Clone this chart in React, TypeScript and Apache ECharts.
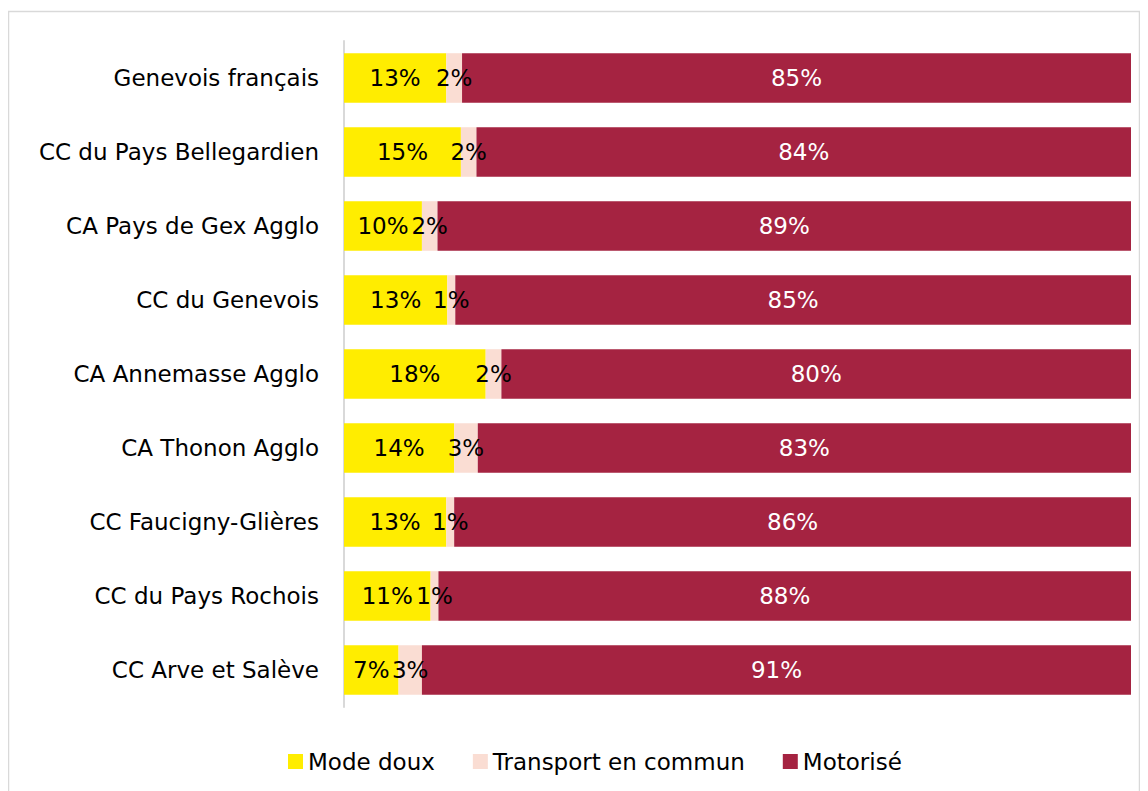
import React, { useEffect, useRef } from "react";
import * as echarts from "echarts";

const categories = [
  "Genevois français",
  "CC du Pays Bellegardien",
  "CA Pays de Gex Agglo",
  "CC du Genevois",
  "CA Annemasse Agglo",
  "CA Thonon Agglo",
  "CC Faucigny-Glières",
  "CC du Pays Rochois",
  "CC Arve et Salève",
];
const modeDoux = [13, 15, 10, 13, 18, 14, 13, 11, 7];
const transportCommun = [2, 2, 2, 1, 2, 3, 1, 1, 3];
const motorise = [85, 84, 89, 85, 80, 83, 86, 88, 91];
const seriesNames = ["Mode doux", "Transport en commun", "Motorisé"];
const colors = ["#FFED00", "#FADDD3", "#A52341"];
const labelColors = ["#000000", "#000000", "#FFFFFF"];

const FONT = "'DejaVu Sans', sans-serif";

export default function App() {
  const ref = useRef<HTMLDivElement>(null);
  useEffect(() => {
    if (!ref.current) return;
    const chart = echarts.init(ref.current, undefined, { renderer: "svg" });
    const all = [modeDoux, transportCommun, motorise];
    const totals = categories.map((_, i) => all.reduce((s, arr) => s + arr[i], 0));
    const series = all.map((arr, k) => ({
      name: seriesNames[k],
      type: "bar",
      stack: "total",
      barCategoryGap: "33%",
      itemStyle: { color: colors[k] },
      label: {
        show: true,
        position: "inside",
        color: labelColors[k],
        fontFamily: FONT,
        fontSize: 23,
        formatter: (p: any) => `${arr[p.dataIndex]}%`,
      },
      data: arr.map((v, i) => ({ value: (v / totals[i]) * 100 })),
    }));
    chart.setOption({
      animation: false,
      backgroundColor: "#ffffff",
      textStyle: { fontFamily: FONT },
      graphic: [
        {
          type: "rect",
          shape: { x: 0.5, y: 3.5, width: 1131, height: 800 },
          style: { fill: "none", stroke: "#d9d9d9", lineWidth: 1.5 },
          silent: true,
        },
      ],
      grid: { left: 336, right: 17, top: 33, bottom: 84, containLabel: false },
      xAxis: {
        type: "value",
        min: 0,
        max: 100,
        show: false,
      },
      yAxis: {
        type: "category",
        data: categories,
        inverse: true,
        axisLine: { show: true, lineStyle: { color: "#d9d9d9", width: 2 } },
        axisTick: { show: false },
        axisLabel: {
          color: "#000000",
          fontFamily: FONT,
          fontSize: 23,
          margin: 25,
        },
      },
      legend: {
        bottom: 13,
        left: 275,
        itemWidth: 15,
        itemHeight: 15,
        itemGap: 38,
        itemStyle: { borderWidth: 0 },
        icon: "rect",
        textStyle: { color: "#000000", fontFamily: FONT, fontSize: 23 },
        data: seriesNames,
      },
      series,
    });
    return () => chart.dispose();
  }, []);
  return <div ref={ref} style={{ width: 1140, height: 783 }} />;
}
